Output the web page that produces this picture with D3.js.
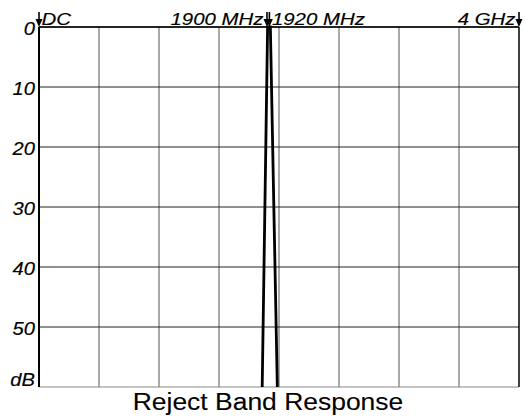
<!DOCTYPE html>
<html>
<head>
<meta charset="utf-8">
<script src="https://cdn.jsdelivr.net/npm/d3@7"></script>
<style>
  body { margin: 0; background: #fff; }
  text { font-family: "Liberation Sans", Arial, sans-serif; fill: #000; stroke: #000; stroke-width: 0.15px; }
</style>
</head>
<body>
<script>
// reject band response
var freqMHz = [1860, 1905, 1928, 1986];
var lossDb = [60, 0, 0, 60];

var markerMHz = [0, 1900, 1920, 4000];
var markerLabels = ["DC", "1900 MHz", "1920 MHz", "4 GHz"];

var dbTicks = [0, 10, 20, 30, 40, 50];
var freqGrid = [500, 1000, 1500, 2000, 2500, 3000, 3500];

var width = 526, height = 419;

var svg = d3.select("body").append("svg")
  .attr("width", width)
  .attr("height", height);

var x = d3.scaleLinear().domain([0, 4000]).range([39, 519]);
var y = d3.scaleLinear().domain([0, 60]).range([27, 387]);

// stretch text a bit wider, the original font is broad
function stretch(sel, k) {
  sel.each(function () {
    var w = this.getComputedTextLength();
    d3.select(this).attr("textLength", w * k).attr("lengthAdjust", "spacingAndGlyphs");
  });
}

// grid
svg.selectAll(".vgrid").data(freqGrid).enter().append("line")
  .attr("x1", function (d) { return x(d); })
  .attr("x2", function (d) { return x(d); })
  .attr("y1", y(0)).attr("y2", y(60))
  .attr("stroke", "#555").attr("stroke-width", 1);

svg.selectAll(".hgrid").data(dbTicks.concat([60])).enter().append("line")
  .attr("x1", x(0)).attr("x2", x(4000))
  .attr("y1", function (d) { return y(d); })
  .attr("y2", function (d) { return y(d); })
  .attr("stroke", function (d) { return d === 60 ? "#888" : "#222"; })
  .attr("stroke-width", 1);

// borders
svg.append("line").attr("x1", x(0)).attr("x2", x(0)).attr("y1", y(0)).attr("y2", y(60))
  .attr("stroke", "#000").attr("stroke-width", 2);
svg.append("line").attr("x1", x(4000)).attr("x2", x(4000)).attr("y1", y(0)).attr("y2", y(60))
  .attr("stroke", "#000").attr("stroke-width", 1.5);
svg.append("line").attr("x1", x(0)).attr("x2", x(4000)).attr("y1", y(0)).attr("y2", y(0))
  .attr("stroke", "#000").attr("stroke-width", 1.5);

// response curve
svg.append("defs").append("clipPath").attr("id", "plotclip")
  .append("rect").attr("x", x(0)).attr("y", y(0) - 4)
  .attr("width", x(4000) - x(0)).attr("height", y(60) - y(0) + 4);

var line = d3.line()
  .x(function (d) { return x(d[0]); })
  .y(function (d) { return y(d[1]); });

svg.append("path")
  .datum(d3.zip(freqMHz, lossDb))
  .attr("clip-path", "url(#plotclip)")
  .attr("d", line)
  .attr("fill", "none")
  .attr("stroke", "#000")
  .attr("stroke-width", 2.8)
  .attr("stroke-linejoin", "miter");

// y labels
var ylab = svg.selectAll(".ylab").data(dbTicks).enter().append("text")
  .attr("x", 35)
  .attr("y", function (d) { return y(d) + 8; })
  .attr("text-anchor", "end")
  .attr("font-size", 17.5)
  .attr("font-style", "italic")
  .text(function (d) { return d; });
stretch(ylab, 1.15);

var dbl = svg.append("text")
  .attr("x", 35).attr("y", y(60) - 1)
  .attr("text-anchor", "end")
  .attr("font-size", 17.5)
  .attr("font-style", "italic")
  .text("dB");
stretch(dbl, 1.15);

// frequency markers with down arrows
var mk = svg.selectAll(".marker").data(markerMHz).enter().append("g");
mk.append("line")
  .attr("x1", function (d) { return x(d); })
  .attr("x2", function (d) { return x(d); })
  .attr("y1", 12).attr("y2", y(0) - 5)
  .attr("stroke", "#000").attr("stroke-width", 1.6);
mk.append("path")
  .attr("d", function (d) {
    var cx = x(d);
    return "M" + (cx - 3.5) + "," + (y(0) - 8) + "L" + (cx + 3.5) + "," + (y(0) - 8) + "L" + cx + "," + y(0) + "Z";
  })
  .attr("fill", "#000");

var mlab = svg.selectAll(".mlab").data(markerLabels).enter().append("text")
  .attr("x", function (d, i) { return x(markerMHz[i]) + (i % 2 === 0 ? 2.5 : -3.5); })
  .attr("y", 25)
  .attr("text-anchor", function (d, i) { return i % 2 === 0 ? "start" : "end"; })
  .attr("font-size", 17)
  .attr("font-style", "italic")
  .text(function (d) { return d; });
stretch(mlab, 1.2);

// title
var title = svg.append("text")
  .attr("x", 268).attr("y", 410)
  .attr("text-anchor", "middle")
  .attr("font-size", 23)
  .style("stroke-width", "0.1px")
  .text("Reject Band Response");
stretch(title, 1.15);
</script>
</body>
</html>
